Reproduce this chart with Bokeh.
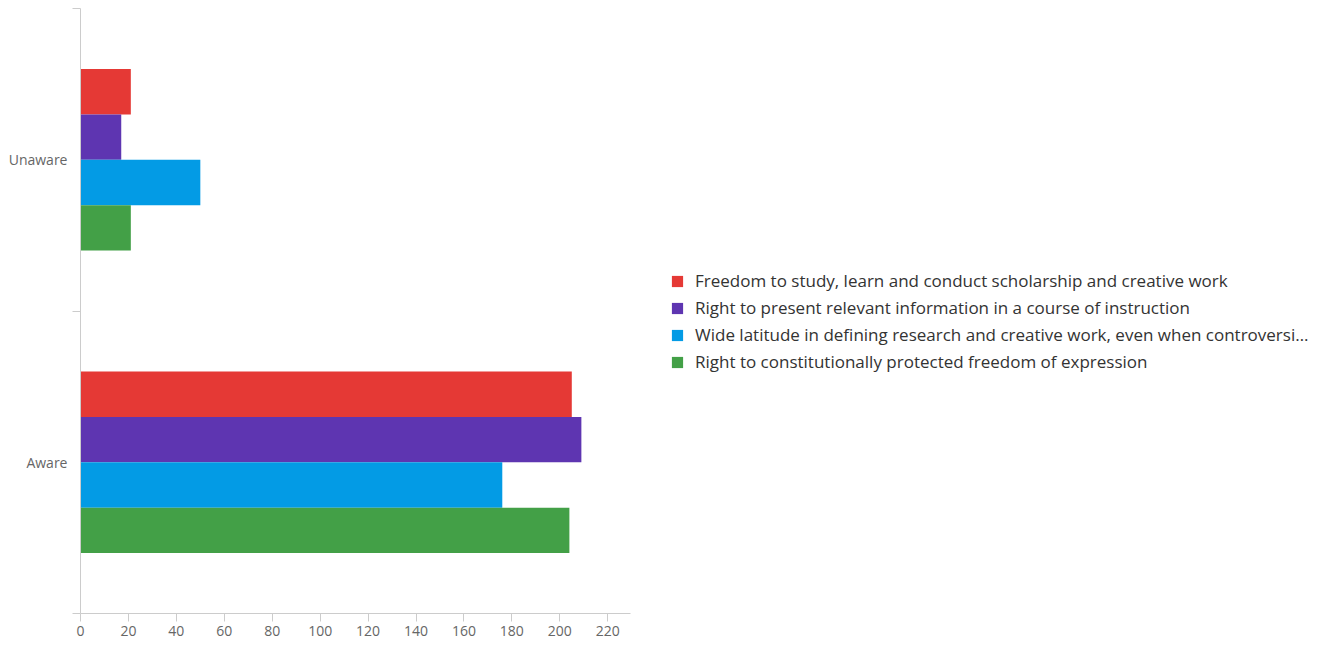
from bokeh.plotting import figure
from bokeh.models import Legend, LegendItem, FixedTicker, Range1d
from bokeh.embed import file_html
from bokeh.resources import INLINE

categories = ["Aware", "Unaware"]
series_names = [
    "Freedom to study, learn and conduct scholarship and creative work",
    "Right to present relevant information in a course of instruction",
    "Wide latitude in defining research and creative work, even when controversi\u2026",
    "Right to constitutionally protected freedom of expression",
]
freedom_study = [205, 21]
present_info = [209, 17]
wide_latitude = [176, 50]
free_expression = [204, 21]
x_ticks = [0, 20, 40, 60, 80, 100, 120, 140, 160, 180, 200, 220]

series_values = [freedom_study, present_info, wide_latitude, free_expression]
colors = ["#E53935", "#5E35B1", "#039BE5", "#43A047"]
bar_h = 0.15
offsets = [0.225, 0.075, -0.075, -0.225]

p = figure(frame_width=550, frame_height=605, height=645,
           x_range=Range1d(0, 229.5), y_range=Range1d(0, 2),
           output_backend="svg", toolbar_location=None,
           min_border_left=80, min_border_top=8, min_border_bottom=32,
           min_border_right=0)
p.outline_line_color = None
p.xgrid.visible = False
p.ygrid.visible = False
p.background_fill_color = "white"
p.border_fill_color = "white"

items = []
for name, vals, col, off in zip(series_names, series_values, colors, offsets):
    ys = [i + 0.5 + off for i in range(len(categories))]
    r = p.hbar(y=ys, right=vals, left=0, height=bar_h, fill_color=col,
               line_color=None)
    items.append(LegendItem(label=name, renderers=[r]))

# x axis
p.xaxis.ticker = FixedTicker(ticks=x_ticks)
p.xaxis.minor_tick_line_color = None
p.xaxis.major_tick_in = 0
p.xaxis.major_tick_out = 8
p.xaxis.axis_line_color = "#cccccc"
p.xaxis.major_tick_line_color = "#cccccc"
p.xaxis.major_label_text_color = "#666666"
p.xaxis.major_label_text_font = "Open Sans"
p.xaxis.major_label_text_font_size = "14px"
p.xaxis.major_label_standoff = 4

# y axis
p.yaxis.ticker = FixedTicker(ticks=[i + 0.5 for i in range(len(categories))],
                             minor_ticks=[0, 1, 2])
p.yaxis.major_label_overrides = {i + 0.5: c for i, c in enumerate(categories)}
p.yaxis.major_tick_line_color = None
p.yaxis.major_tick_out = 0
p.yaxis.major_tick_in = 0
p.yaxis.minor_tick_line_color = "#cccccc"
p.yaxis.minor_tick_in = 0
p.yaxis.minor_tick_out = 8
p.yaxis.axis_line_color = "#cccccc"
p.yaxis.major_label_text_color = "#666666"
p.yaxis.major_label_text_font = "Open Sans"
p.yaxis.major_label_text_font_size = "14px"
p.yaxis.major_label_standoff = 5

legend = Legend(items=items, location=(40, 240))
legend.border_line_color = None
legend.background_fill_alpha = 0
legend.margin = 42
legend.padding = 0
legend.glyph_width = 14
legend.glyph_height = 14
legend.label_standoff = 11
legend.spacing = 4
legend.label_text_font = "Open Sans"
legend.label_text_font_size = "17px"
legend.label_text_color = "#333333"
p.add_layout(legend, "right")

open("out.html", "w").write(file_html(p, INLINE))
